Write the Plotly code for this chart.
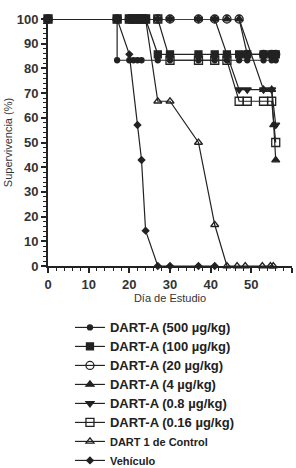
import plotly.graph_objects as go

# ---- data ----
days_500 = [0, 17, 17, 20, 21, 22, 23, 27, 30, 37, 41, 44, 47, 49, 53, 55, 56]
surv_500 = [100, 100, 83.3, 83.3, 83.3, 83.3, 83.3, 83.3, 83.3, 83.3, 83.3, 83.3, 83.3, 83.3, 83.3, 83.3, 83.3]

days_100 = [0, 17, 20, 21, 22, 23, 24, 27, 30, 37, 41, 44, 47, 49, 53, 55, 56]
surv_100 = [100, 100, 100, 100, 100, 100, 100, 85.7, 85.7, 85.7, 85.7, 85.7, 85.7, 85.7, 85.7, 85.7, 85.7]

days_20 = [0, 17, 20, 21, 22, 23, 24, 27, 30, 37, 41, 44, 47, 49, 53, 55, 56]
surv_20 = [100, 100, 100, 100, 100, 100, 100, 100, 100, 100, 100, 100, 100, 85.7, 85.7, 85.7, 85.7]

days_4 = [0, 17, 20, 21, 22, 23, 24, 27, 30, 37, 41, 44, 47, 53, 55, 55.5, 56]
surv_4 = [100, 100, 100, 100, 100, 100, 100, 100, 100, 100, 100, 100, 100, 71.4, 71.4, 57.1, 42.9]

days_08 = [0, 17, 20, 21, 22, 23, 24, 27, 30, 37, 41, 47, 49, 53, 55, 56]
surv_08 = [100, 100, 100, 100, 100, 100, 100, 100, 100, 100, 100, 71.4, 71.4, 71.4, 71.4, 57.1]

days_016 = [0, 17, 20, 21, 22, 23, 24, 27, 30, 37, 41, 44, 47, 49, 53, 55, 56]
surv_016 = [100, 100, 100, 100, 100, 100, 100, 100, 83.3, 83.3, 83.3, 83.3, 66.7, 66.7, 66.7, 66.7, 50]

days_ctrl = [0, 17, 20, 21, 22, 23, 24, 27, 30, 37, 41, 44, 46.5, 48.5, 52.7, 54.7, 55.4]
surv_ctrl = [100, 100, 100, 100, 100, 100, 100, 66.7, 66.7, 50, 16.7, 0, 0, 0, 0, 0, 0]

days_veh = [0, 17, 20, 22, 23, 24, 27, 30, 37, 41]
surv_veh = [100, 100, 85.7, 57.1, 42.9, 14.3, 0, 0, 0, 0]

x_ticks = [0, 10, 20, 30, 40, 50, 60]
y_ticks = [0, 10, 20, 30, 40, 50, 60, 70, 80, 90, 100]

INK = "#222222"
FONT = "Liberation Sans, Arial, sans-serif"

big = "<span style='font-size:13px'>{}</span>"
small = "<span style='font-size:11px'>{}</span>"

series = [
    (big.format("DART-A (500 µg/kg)"), days_500, surv_500, "circle", 5),
    (big.format("DART-A (100 µg/kg)"), days_100, surv_100, "square", 7),
    (big.format("DART-A (20 µg/kg)"), days_20, surv_20, "circle-open", 8),
    (big.format("DART-A (4 µg/kg)"), days_4, surv_4, "triangle-up", 7),
    (big.format("DART-A (0.8 µg/kg)"), days_08, surv_08, "triangle-down", 7),
    (big.format("DART-A (0.16 µg/kg)"), days_016, surv_016, "square-open", 8),
    (small.format("DART 1 de Control"), days_ctrl, surv_ctrl, "triangle-up-open", 7),
    (small.format("Vehículo"), days_veh, surv_veh, "diamond", 5),
]

fig = go.Figure()
for name, xs, ys, sym, sz in series:
    fig.add_trace(go.Scatter(
        x=xs, y=ys, name=name, mode="lines+markers",
        line=dict(color=INK, width=1.2),
        marker=dict(symbol=sym, size=sz, color=INK, line=dict(color=INK, width=1.3)),
        cliponaxis=False,
    ))

axis_common = dict(
    showgrid=False, zeroline=False, showline=True, linecolor=INK, linewidth=2,
    ticks="outside", ticklen=5, tickwidth=1.5, tickcolor=INK, automargin=False,
    tickfont=dict(family=FONT, size=13, color="#333333", weight="bold"),
)

fig.update_xaxes(
    range=[0, 60], tickvals=x_ticks, **axis_common,
    minor=dict(dtick=2, ticks="outside", ticklen=3, tickcolor=INK, tickwidth=1),
    title=dict(text="Día de Estudio", font=dict(family=FONT, size=11, color="#333333"), standoff=2),
)
fig.update_yaxes(
    range=[0, 100], tickvals=y_ticks, **axis_common,
    minor=dict(dtick=2, ticks="outside", ticklen=3, tickcolor=INK, tickwidth=1),
    title=dict(text="Supervivencia (%)", font=dict(family=FONT, size=11, color="#333333"), standoff=2),
)

fig.update_layout(
    width=296, height=468,
    margin=dict(l=48, r=4, t=19, b=202, autoexpand=False),
    paper_bgcolor="white", plot_bgcolor="white",
    showlegend=True,
    legend=dict(
        x=0.09, y=-0.19, xanchor="left", yanchor="top",
        font=dict(family=FONT, size=12, color="#222222", weight="bold"),
        bgcolor="rgba(0,0,0,0)", tracegroupgap=0,
    ),
)

fig.write_html(
    "out.html",
    config={"displayModeBar": False},
    post_script="document.body.style.margin='0';document.body.style.overflow='hidden';",
)
